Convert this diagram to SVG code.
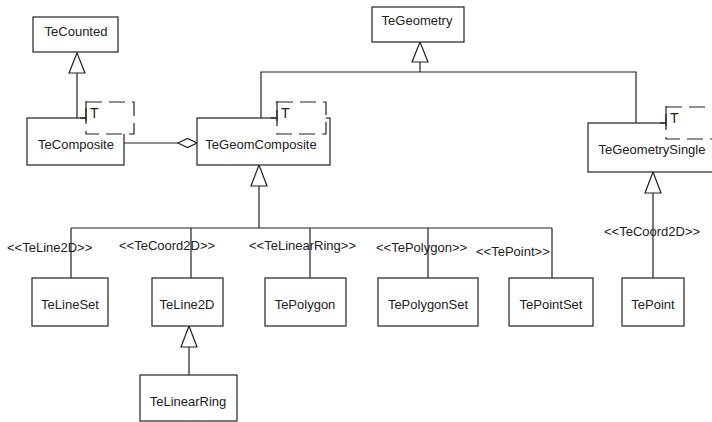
<svg xmlns="http://www.w3.org/2000/svg" width="712" height="422" viewBox="0 0 712 422">
<style>
.box{fill:#fff;stroke:#222;stroke-width:1.2}
.tpl{fill:#fff;stroke:#222;stroke-width:1.2;stroke-dasharray:16,7}
.bar{stroke:#222;stroke-width:1.2;fill:none}
.ln{stroke:#222;stroke-width:1.2;fill:none}
.tri{fill:#fff;stroke:#222;stroke-width:1.2}
text{font-family:"Liberation Sans",Arial,sans-serif;font-size:13px;fill:#222}
.c{text-anchor:middle}
.st{font-size:13px}
.t{font-size:14px}
</style>
<rect width="712" height="422" fill="#fff"/>
<g id="connectors">
<polyline class="ln" points="77,118 77,72"/>
<polygon class="tri" points="77,53 69,73 85,73"/>
<polyline class="ln" points="261,118 261,72 636,72 636,123"/>
<line class="ln" x1="420" y1="72" x2="420" y2="62"/>
<polygon class="tri" points="420,42 412,62 428,62"/>
<line class="ln" x1="124" y1="143" x2="178" y2="143"/>
<polygon class="tri" points="178,143 187.5,138.5 197,143 187.5,147.5"/>
<line class="ln" x1="259" y1="186" x2="259" y2="228"/>
<polygon class="tri" points="259,165 251,186 267,186"/>
<line class="ln" x1="71" y1="228" x2="552" y2="228"/>
<line class="ln" x1="71" y1="228" x2="71" y2="278"/>
<line class="ln" x1="191" y1="228" x2="191" y2="278"/>
<line class="ln" x1="310" y1="228" x2="310" y2="278"/>
<line class="ln" x1="428" y1="228" x2="428" y2="278"/>
<line class="ln" x1="552" y1="228" x2="552" y2="278"/>
<line class="ln" x1="189" y1="347" x2="189" y2="375"/>
<polygon class="tri" points="189,326 181,347 197,347"/>
<line class="ln" x1="653" y1="193" x2="653" y2="278"/>
<polygon class="tri" points="653,172 645,193 661,193"/>
<text class="st" x="7" y="252">&lt;&lt;TeLine2D&gt;&gt;</text>
<text class="st" x="119" y="250">&lt;&lt;TeCoord2D&gt;&gt;</text>
<text class="st" x="249" y="250">&lt;&lt;TeLinearRing&gt;&gt;</text>
<text class="st" x="376" y="252">&lt;&lt;TePolygon&gt;&gt;</text>
<text class="st" x="476" y="256">&lt;&lt;TePoint&gt;&gt;</text>
<text class="st" x="604" y="236">&lt;&lt;TeCoord2D&gt;&gt;</text>
</g>
<g id="TeCounted">
<rect class="box" x="33" y="17" width="85" height="35"/>
<text class="c" x="76" y="36">TeCounted</text>
</g>
<g id="TeGeometry">
<rect class="box" x="372" y="7" width="92" height="35"/>
<text class="c" x="417" y="25">TeGeometry</text>
</g>
<g id="TeComposite">
<rect class="box" x="27" y="118" width="97" height="47"/>
<rect class="tpl" x="86" y="102" width="48" height="32"/>
<line class="bar" x1="86" y1="101" x2="86" y2="121"/>
<line class="bar" x1="80" y1="118" x2="86" y2="118"/>
<text class="t" x="90" y="118">T</text>
<text class="c" x="76" y="149">TeComposite</text>
</g>
<g id="TeGeomComposite">
<rect class="box" x="197" y="118" width="133" height="47"/>
<rect class="tpl" x="277" y="102" width="49" height="32"/>
<line class="bar" x1="277" y1="101" x2="277" y2="121"/>
<line class="bar" x1="271" y1="118" x2="277" y2="118"/>
<text class="t" x="281" y="118">T</text>
<text class="c" x="261" y="149">TeGeomComposite</text>
</g>
<g id="TeGeometrySingle">
<rect class="box" x="588" y="123" width="140" height="49"/>
<rect class="tpl" x="666" y="107" width="60" height="32"/>
<line class="bar" x1="666" y1="106" x2="666" y2="126"/>
<line class="bar" x1="660" y1="123" x2="666" y2="123"/>
<text class="t" x="670" y="123">T</text>
<text class="c" x="652" y="154">TeGeometrySingle</text>
</g>
<g id="TeLineSet">
<rect class="box" x="32" y="278" width="76" height="48"/>
<text class="c" x="70" y="309">TeLineSet</text>
</g>
<g id="TeLine2D">
<rect class="box" x="152" y="278" width="71" height="48"/>
<text class="c" x="187" y="309">TeLine2D</text>
</g>
<g id="TePolygon">
<rect class="box" x="265" y="278" width="81" height="48"/>
<text class="c" x="305" y="309">TePolygon</text>
</g>
<g id="TePolygonSet">
<rect class="box" x="378" y="278" width="100" height="48"/>
<text class="c" x="428" y="309">TePolygonSet</text>
</g>
<g id="TePointSet">
<rect class="box" x="509" y="278" width="84" height="48"/>
<text class="c" x="551" y="309">TePointSet</text>
</g>
<g id="TePoint">
<rect class="box" x="622" y="278" width="62" height="48"/>
<text class="c" x="653" y="309">TePoint</text>
</g>
<g id="TeLinearRing">
<rect class="box" x="140" y="375" width="97" height="46"/>
<text class="c" x="188" y="406">TeLinearRing</text>
</g>
</svg>
